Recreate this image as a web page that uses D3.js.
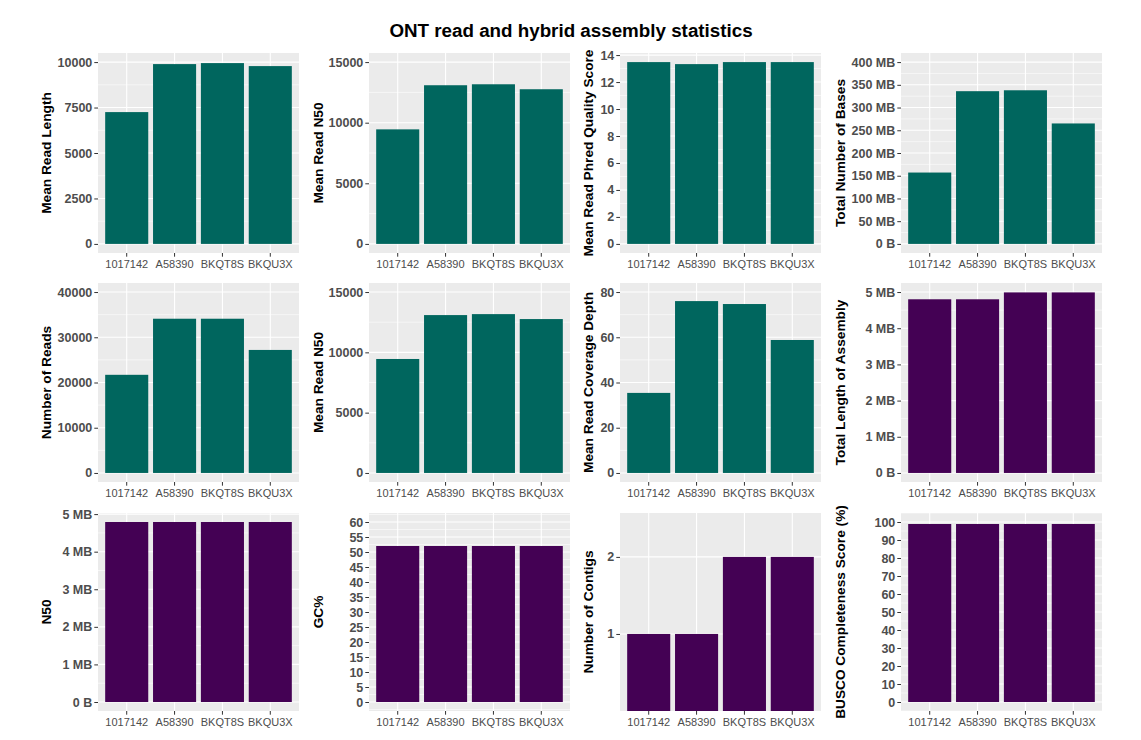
<!DOCTYPE html>
<html>
<head>
<meta charset="utf-8">
<script src="https://cdn.jsdelivr.net/npm/d3@7"></script>
<style>
  body { margin: 0; background: #fff; }
  text { font-family: "Liberation Sans", Arial, Helvetica, sans-serif; }
</style>
</head>
<body>
<svg id="chart"></svg>
<script>
// samples on the x axis
var samples = ["1017142", "A58390", "BKQT8S", "BKQU3X"];

// ONT read stats
var meanReadLength = [7250, 9890, 9945, 9780];
var meanReadN50 = [9450, 13090, 13170, 12760];
var meanPhred = [13.48, 13.33, 13.48, 13.48];
var totalBasesMB = [157, 336, 338, 265];
var numberOfReads = [21700, 34100, 34100, 27200];
var coverageDepth = [35.4, 76.0, 74.7, 58.8];

// hybrid assembly stats
var assemblyLengthMB = [4.80, 4.80, 4.99, 4.99];
var n50MB = [4.79, 4.79, 4.79, 4.79];
var gcPercent = [52, 52, 52, 52];
var contigs = [1, 1, 2, 2];
var busco = [98.9, 98.9, 98.9, 98.9];

// tick values and labels
var lengthTicks = [0, 2500, 5000, 7500, 10000];
var n50Ticks = [0, 5000, 10000, 15000];
var phredTicks = [0, 2, 4, 6, 8, 10, 12, 14];
var basesTicks = [0, 50, 100, 150, 200, 250, 300, 350, 400];
var basesLabels = ["0 B", "50 MB", "100 MB", "150 MB", "200 MB", "250 MB", "300 MB", "350 MB", "400 MB"];
var readsTicks = [0, 10000, 20000, 30000, 40000];
var coverageTicks = [0, 20, 40, 60, 80];
var mbTicks = [0, 1, 2, 3, 4, 5];
var mbLabels = ["0 B", "1 MB", "2 MB", "3 MB", "4 MB", "5 MB"];
var gcTicks = [0, 5, 10, 15, 20, 25, 30, 35, 40, 45, 50, 55, 60];
var contigTicks = [1, 2];
var buscoTicks = [0, 10, 20, 30, 40, 50, 60, 70, 80, 90, 100];

var teal = "#00665e", purple = "#440154";

var panels = [
  {title: "Mean Read Length", values: meanReadLength, ticks: lengthTicks, limits: [0, 10000], fill: teal},
  {title: "Mean Read N50", values: meanReadN50, ticks: n50Ticks, limits: [0, 15000], fill: teal},
  {title: "Mean Read Phred Quality Score", values: meanPhred, ticks: phredTicks, limits: [0, d3.max(meanPhred)], fill: teal},
  {title: "Total Number of Bases", values: totalBasesMB, ticks: basesTicks, labels: basesLabels, limits: [0, 400], fill: teal},
  {title: "Number of Reads", values: numberOfReads, ticks: readsTicks, limits: [0, 40000], fill: teal},
  {title: "Mean Read N50", values: meanReadN50, ticks: n50Ticks, limits: [0, 15000], fill: teal},
  {title: "Mean Read Coverage Depth", values: coverageDepth, ticks: coverageTicks, limits: [0, 80], fill: teal},
  {title: "Total Length of Assembly", values: assemblyLengthMB, ticks: mbTicks, labels: mbLabels, limits: [0, 5], fill: purple},
  {title: "N50", values: n50MB, ticks: mbTicks, labels: mbLabels, limits: [0, d3.max(n50MB)], fill: purple},
  {title: "GC%", values: gcPercent, ticks: gcTicks, limits: [0, 60], fill: purple},
  {title: "Number of Contigs", values: contigs, ticks: contigTicks, limits: [0, 2.57], noExpand: true, noMinor: true, fill: purple},
  {title: "BUSCO Completeness Score (%)", values: busco, ticks: buscoTicks, limits: [0, 100], fill: purple}
];

var W = 1141, H = 740;
var colX = [98, 369, 620, 901], panelW = 201;
var rowY = [53, 283, 513], rowH = [200, 199, 198];
var titleX = [46, 318, 588, 840];

var svg = d3.select("#chart").attr("width", W).attr("height", H);

svg.append("text")
  .attr("x", 571).attr("y", 37)
  .attr("text-anchor", "middle")
  .style("font-size", "18.8px").style("font-weight", "bold")
  .text("ONT read and hybrid assembly statistics");

panels.forEach(function(p, i) {
  var col = i % 4, row = Math.floor(i / 4);
  var x0 = colX[col], y0 = rowY[row], h = rowH[row];
  var lo = p.limits[0], hi = p.limits[1];
  var pad = p.noExpand ? 0 : (hi - lo) * 0.05;

  var y = d3.scaleLinear().domain([lo - pad, hi + pad]).range([y0 + h, y0]);
  var x = d3.scaleBand().domain(samples).range([x0, x0 + panelW])
    .paddingInner(0.1).paddingOuter(0.15);

  var g = svg.append("g");

  g.append("rect")
    .attr("x", x0).attr("y", y0).attr("width", panelW).attr("height", h)
    .attr("fill", "#ebebeb");

  // minor grid: midpoints between breaks, one step past each end
  if (!p.noMinor) {
    var t = p.ticks, step = t[1] - t[0];
    var ext = [t[0] - step].concat(t, [t[t.length - 1] + step]);
    var dom = y.domain();
    var minor = d3.pairs(ext).map(function(d) { return (d[0] + d[1]) / 2; })
      .filter(function(v) { return v >= dom[0] && v <= dom[1]; });
    g.selectAll(".minor").data(minor).enter().append("line")
      .attr("x1", x0).attr("x2", x0 + panelW)
      .attr("y1", function(d) { return y(d); }).attr("y2", function(d) { return y(d); })
      .attr("stroke", "#fff").attr("stroke-width", 0.55);
  }

  g.selectAll(".major").data(p.ticks).enter().append("line")
    .attr("x1", x0).attr("x2", x0 + panelW)
    .attr("y1", function(d) { return y(d); }).attr("y2", function(d) { return y(d); })
    .attr("stroke", "#fff").attr("stroke-width", 1.1);

  g.selectAll(".vgrid").data(samples).enter().append("line")
    .attr("x1", function(d) { return x(d) + x.bandwidth() / 2; })
    .attr("x2", function(d) { return x(d) + x.bandwidth() / 2; })
    .attr("y1", y0).attr("y2", y0 + h)
    .attr("stroke", "#fff").attr("stroke-width", 1.1);

  g.selectAll(".bar").data(p.values).enter().append("rect")
    .attr("x", function(d, j) { return x(samples[j]); })
    .attr("width", x.bandwidth())
    .attr("y", function(d) { return y(d); })
    .attr("height", function(d) { return y(0) - y(d); })
    .attr("fill", p.fill);

  var yAxis = d3.axisLeft(y).tickValues(p.ticks).tickSize(3.7).tickPadding(2)
    .tickFormat(function(d, j) { return p.labels ? p.labels[j] : String(d); });
  var ya = svg.append("g").attr("transform", "translate(" + x0 + ",0)").call(yAxis);
  ya.select(".domain").remove();
  ya.selectAll("line").attr("stroke", "#333");
  ya.selectAll("text").attr("fill", "#4d4d4d")
    .style("font-size", "12.5px").style("font-weight", "bold")
    .style("font-family", "'Liberation Sans', Arial, sans-serif");

  var xAxis = d3.axisBottom(x).tickSize(3.7).tickPadding(3);
  var xa = svg.append("g").attr("transform", "translate(0," + (y0 + h) + ")").call(xAxis);
  xa.select(".domain").remove();
  xa.selectAll("line").attr("stroke", "#333");
  xa.selectAll("text").attr("fill", "#4d4d4d")
    .style("font-size", "11px")
    .style("font-family", "'Liberation Sans', Arial, sans-serif");

  svg.append("text")
    .attr("transform", "translate(" + titleX[col] + "," + (y0 + h / 2) + ") rotate(-90)")
    .attr("text-anchor", "middle")
    .attr("dominant-baseline", "central")
    .style("font-size", "13.7px").style("font-weight", "bold")
    .text(p.title);
});
</script>
</body>
</html>
